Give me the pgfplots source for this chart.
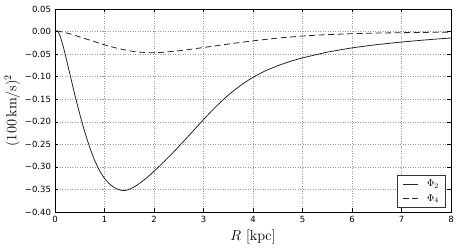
\documentclass[border=0pt]{standalone}
\usepackage{fontspec}
\setsansfont{DejaVu Sans}
\usepackage{pgfplots}
\pgfplotsset{compat=1.18}
\begin{document}
\begin{tikzpicture}
\begin{axis}[
  width=396pt, height=203pt, scale only axis,
  xmin=0, xmax=8, ymin=-0.40, ymax=0.05,
  xtick={0,1,2,3,4,5,6,7,8},
  xticklabels={0,1,2,3,4,5,6,7,8},
  ytick={-0.40,-0.35,-0.30,-0.25,-0.20,-0.15,-0.10,-0.05,0.00,0.05},
  yticklabels={−0.40,−0.35,−0.30,−0.25,−0.20,−0.15,−0.10,−0.05,0.00,0.05},
  ticklabel style={font=\sffamily\fontsize{8.5}{10}\selectfont},
  xticklabel style={yshift=-0.5pt},
  yticklabel style={xshift=-0.5pt},
  tick align=inside, xtick pos=both, ytick pos=both,
  major tick length=3.5pt,
  every tick/.style={black, line width=0.5pt},
  axis line style={black, line width=0.8pt},
  grid=major,
  grid style={black!40, line width=0.5pt, dash pattern=on 1pt off 1.5pt},
  xlabel={$R\ [\mathrm{kpc}]$},
  ylabel={$(100\,\mathrm{km/s})^2$},
  xlabel style={font=\fontsize{14.5}{16}\selectfont, at={(axis description cs:0.5,0)}, anchor=base, yshift=-28pt, inner sep=0pt},
  ylabel style={font=\fontsize{14.5}{16}\selectfont, at={(axis description cs:-0.088,0.5)}, anchor=south, inner sep=0pt},
  legend style={at={(1,0)}, anchor=south east, xshift=-5pt, yshift=4.5pt,
    draw=black!80, line width=0.5pt, font=\fontsize{10}{12}\selectfont,
    inner xsep=5pt, inner ysep=2.5pt, row sep=2pt, column sep=7pt},
  legend cell align=left,
  legend image code/.code={\draw[#1] (0pt,0pt) -- (15pt,0pt);},
]
\addplot[black!85, line width=0.8pt, smooth, tension=0.3] coordinates {
(0.06,0.0) (0.10,-0.009) (0.15,-0.0265) (0.20,-0.0478) (0.30,-0.0938) (0.40,-0.1398)
(0.50,-0.1828) (0.60,-0.2218) (0.70,-0.2563) (0.80,-0.2853) (0.90,-0.3083) (1.00,-0.3255)
(1.10,-0.3378) (1.20,-0.3459) (1.30,-0.3508) (1.37,-0.3525) (1.45,-0.3515) (1.55,-0.3473)
(1.65,-0.3409) (1.75,-0.3331) (1.85,-0.3243) (1.95,-0.3147) (2.05,-0.3046) (2.20,-0.2887)
(2.40,-0.2665) (2.60,-0.2432) (2.80,-0.2192) (3.00,-0.1952) (3.20,-0.1721) (3.40,-0.1508)
(3.60,-0.1319) (3.80,-0.1155) (4.00,-0.1014) (4.25,-0.0871) (4.50,-0.0757) (4.75,-0.0663)
(5.00,-0.0584) (5.50,-0.0457) (6.00,-0.0362) (6.50,-0.0290) (7.00,-0.0233) (7.50,-0.0184)
(8.00,-0.0142)
};
\addlegendentry{$\Phi_2$}
\addplot[black!85, line width=0.8pt, dash pattern=on 6pt off 3.5pt, smooth, tension=0.3] coordinates {
(0.03,0.002) (0.30,-0.0050) (0.60,-0.0154) (1.00,-0.0294) (1.30,-0.0382) (1.60,-0.0444)
(1.90,-0.0469) (2.20,-0.0459) (2.60,-0.0413) (3.00,-0.0354) (3.50,-0.0277) (4.00,-0.0206)
(4.50,-0.0145) (5.00,-0.0099) (5.50,-0.0068) (6.00,-0.0048) (6.50,-0.0034) (7.00,-0.0025)
(7.50,-0.0018) (8.00,-0.0012)
};
\addlegendentry{$\Phi_4$}
\end{axis}
\pgfresetboundingbox
\path ([xshift=-55pt,yshift=-37pt]current axis.south west) rectangle ([xshift=7pt,yshift=9pt]current axis.north east);
\end{tikzpicture}
\end{document}
